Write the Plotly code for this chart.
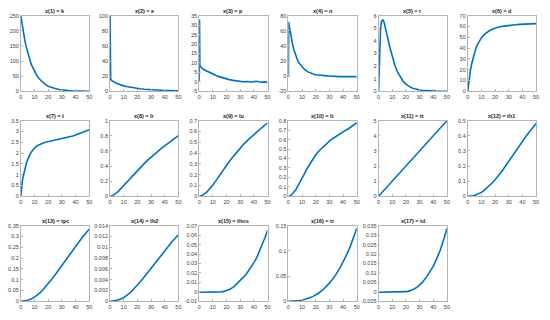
import numpy as np
import plotly.graph_objects as go

t = [0, 0.25, 0.5, 1, 1.5, 2, 3, 4, 5, 6, 7, 8, 10, 12, 14, 16, 18, 20, 22, 25, 28, 30, 32, 35, 38, 40, 42, 45, 48, 50]

titles = ["x(1) = k", "x(2) = e", "x(3) = p", "x(4) = n", "x(5) = r", "x(6) = d",
          "x(7) = t", "x(8) = lr", "x(9) = lu", "x(10) = lt", "x(11) = tt", "x(12) = th1",
          "x(13) = tpc", "x(14) = th2", "x(15) = thos", "x(16) = tr", "x(17) = td"]

x1 = [250, 242, 234, 219, 205, 192, 167, 147, 128, 112, 98, 86, 66, 50, 39, 30, 23, 17, 13, 9, 6, 4.5, 3.5, 2.3, 1.6, 1.2, 0.9, 0.6, 0.4, 0.3]
x2 = [100, 30, 16, 14.5, 13.8, 13.2, 12.2, 11.3, 10.4, 9.6, 8.9, 8.3, 7.2, 6.3, 5.5, 4.8, 4.2, 3.7, 3.3, 2.8, 2.3, 2.0, 1.8, 1.5, 1.3, 1.1, 1.0, 0.85, 0.75, 0.7]
x3 = [0, 33, 9, 8, 7.6, 7.3, 6.8, 6.3, 5.9, 5.5, 5.1, 4.8, 4.1, 3.5, 2.9, 2.4, 2.0, 1.6, 1.2, 0.8, 0.4, 0.2, 0.1, 0.2, -0.1, 0.1, 0.3, -0.2, 0.0, -0.3]
x4 = [0, 72, 68, 63, 57, 52, 43, 35, 29, 24, 20, 17, 12, 8.5, 6, 4.2, 3, 2, 1.4, 0.8, 0.4, 0.2, -0.2, -0.4, -0.5, -0.5, -0.5, -0.6, -0.6, -0.6]
x5 = [0, 1.2, 2.4, 4.0, 5.0, 5.5, 5.7, 5.5, 5.1, 4.6, 4.1, 3.6, 2.75, 2.05, 1.5, 1.1, 0.8, 0.57, 0.41, 0.25, 0.15, 0.11, 0.08, 0.05, 0.03, 0.02, 0.015, 0.01, 0.01, 0.01]
x6 = [0, 3, 6, 11, 15.5, 19.5, 26, 31.5, 36, 40, 43, 45.5, 49.5, 52.5, 54.5, 56.3, 57.5, 58.5, 59.3, 60.2, 60.8, 61.1, 61.4, 61.7, 62, 62.1, 62.3, 62.5, 62.6, 62.7]
x7 = [0, 0.25, 0.4, 0.65, 0.85, 1.0, 1.3, 1.52, 1.7, 1.86, 1.98, 2.08, 2.24, 2.34, 2.41, 2.46, 2.5, 2.53, 2.56, 2.59, 2.63, 2.65, 2.68, 2.73, 2.79, 2.84, 2.89, 2.96, 3.03, 3.08]
x8 = [0, 0, 0.001, 0.003, 0.006, 0.01, 0.021, 0.035, 0.05, 0.066, 0.084, 0.102, 0.14, 0.18, 0.22, 0.26, 0.3, 0.34, 0.378, 0.433, 0.485, 0.518, 0.55, 0.596, 0.64, 0.668, 0.696, 0.737, 0.777, 0.803]
x9 = [0, 0, 0.001, 0.002, 0.004, 0.007, 0.014, 0.023, 0.033, 0.045, 0.058, 0.072, 0.105, 0.141, 0.178, 0.215, 0.252, 0.288, 0.322, 0.37, 0.418, 0.448, 0.475, 0.514, 0.55, 0.573, 0.595, 0.628, 0.66, 0.678]
x10 = [0, 0, 0.001, 0.003, 0.006, 0.011, 0.024, 0.04, 0.06, 0.083, 0.108, 0.135, 0.19, 0.245, 0.3, 0.35, 0.4, 0.44, 0.475, 0.52, 0.56, 0.585, 0.607, 0.637, 0.665, 0.683, 0.7, 0.726, 0.753, 0.78]
x11 = [0, 0.025, 0.05, 0.1, 0.15, 0.2, 0.3, 0.4, 0.5, 0.6, 0.7, 0.8, 1.0, 1.2, 1.4, 1.6, 1.8, 2.0, 2.2, 2.5, 2.8, 3.0, 3.2, 3.5, 3.8, 4.0, 4.2, 4.5, 4.8, 5.0]
x12 = [0, 0, 0, 0.0003, 0.0006, 0.001, 0.002, 0.004, 0.006, 0.009, 0.012, 0.016, 0.026, 0.039, 0.054, 0.071, 0.09, 0.11, 0.131, 0.166, 0.205, 0.232, 0.259, 0.299, 0.338, 0.364, 0.389, 0.425, 0.46, 0.482]
x13 = [0, 0, 0, 0.0003, 0.0006, 0.001, 0.002, 0.003, 0.005, 0.007, 0.009, 0.012, 0.019, 0.028, 0.039, 0.052, 0.066, 0.081, 0.097, 0.122, 0.149, 0.167, 0.185, 0.212, 0.239, 0.256, 0.273, 0.297, 0.32, 0.334]
x14 = [0, 0, 0, 0.00001, 0.00002, 0.00004, 0.00008, 0.00012, 0.00019, 0.00026, 0.00034, 0.00044, 0.0007, 0.00104, 0.00144, 0.00191, 0.00243, 0.00298, 0.00357, 0.00449, 0.00548, 0.00615, 0.00681, 0.0078, 0.0088, 0.00942, 0.01005, 0.01093, 0.01178, 0.0123]
x15 = [-0.0005, -0.0005, -0.0005, -0.0005, -0.0005, -0.0005, -0.0005, -0.0005, -0.0005, -0.0005, -0.0005, -0.0005, -0.0005, -0.0004, -0.0003, 0.0, 0.0005, 0.0013, 0.0025, 0.005, 0.009, 0.012, 0.015, 0.020, 0.026, 0.031, 0.036, 0.046, 0.057, 0.065]
x16 = [0, 0, 0, 0, 0.0001, 0.0001, 0.0002, 0.0003, 0.0005, 0.0007, 0.001, 0.0013, 0.0022, 0.0035, 0.0052, 0.0073, 0.0098, 0.0127, 0.016, 0.022, 0.03, 0.036, 0.043, 0.054, 0.068, 0.078, 0.089, 0.107, 0.129, 0.145]
x17 = [-0.0002, -0.0002, -0.0002, -0.0002, -0.0002, -0.0002, -0.0002, -0.0002, -0.0002, -0.0002, -0.0002, -0.0002, -0.0002, -0.0002, -0.0002, -0.0002, -0.0001, 0.0001, 0.0004, 0.0011, 0.0024, 0.0036, 0.005, 0.0078, 0.0112, 0.0135, 0.0167, 0.0218, 0.0285, 0.0335]

series = [x1, x2, x3, x4, x5, x6, x7, x8, x9, x10, x11, x12, x13, x14, x15, x16, x17]

y_ranges = [(0, 250), (0, 100), (-5, 35), (-20, 80), (0, 6), (0, 70),
            (0, 3.5), (0, 1), (0, 0.7), (0, 0.8), (0, 5), (0, 0.5),
            (0, 0.35), (0, 0.014), (-0.01, 0.07), (0, 0.15), (-0.005, 0.035)]
y_dticks = [50, 20, 5, 20, 1, 10, 0.5, 0.2, 0.1, 0.1, 1, 0.1, 0.05, 0.002, 0.01, 0.05, 0.005]
x_ticks = [0, 10, 20, 30, 40, 50]

W, H = 550, 320
col_left = [19, 109, 199, 289, 380, 470]
col_w = 69
row_top = [13, 120, 227]
row_h = 77

fig = go.Figure()
layout = dict(width=W, height=H, margin=dict(l=0, r=0, t=0, b=0),
              paper_bgcolor="white", plot_bgcolor="white", showlegend=False,
              font=dict(family="Liberation Sans, Arial, sans-serif", size=5.5, color="#404040"))
annotations = []
axis_line = "#b5b5b5"
for i, ys in enumerate(series):
    n = i + 1
    r, c = divmod(i, 6)
    x0 = col_left[c] / W
    x1d = (col_left[c] + col_w) / W
    ytop = 1 - row_top[r] / H
    ybot = 1 - (row_top[r] + row_h) / H
    sfx = "" if n == 1 else str(n)
    fig.add_trace(go.Scatter(x=t, y=ys, mode="lines", xaxis="x" + sfx, yaxis="y" + sfx,
                             line=dict(color="#0072BD", width=1.6), hoverinfo="skip"))
    lo, hi = y_ranges[i]
    d = y_dticks[i]
    nt = int(round((hi - lo) / d))
    tv = [round(lo + k * d, 6) for k in range(nt + 1)]
    tt = ["{:g}".format(v) for v in tv]
    layout["xaxis" + sfx] = dict(domain=[x0, x1d], anchor="y" + sfx, range=[0, 50],
                                 tickvals=x_ticks, ticktext=[str(v) for v in x_ticks],
                                 showgrid=False, zeroline=False, showline=True, mirror=True,
                                 linecolor=axis_line, linewidth=0.8, ticks="inside", ticklen=2,
                                 tickcolor=axis_line, tickfont=dict(size=5.5, color="#404040"))
    layout["yaxis" + sfx] = dict(domain=[ybot, ytop], anchor="x" + sfx, range=[lo, hi],
                                 tickvals=tv, ticktext=tt,
                                 showgrid=False, zeroline=False, showline=True, mirror=True,
                                 linecolor=axis_line, linewidth=0.8, ticks="inside", ticklen=2,
                                 tickcolor=axis_line, tickfont=dict(size=5.5, color="#404040"))
    annotations.append(dict(text="<b>" + titles[i] + "</b>", x=(x0 + x1d) / 2, y=ytop,
                            xref="paper", yref="paper", xanchor="center", yanchor="bottom",
                            yshift=0, showarrow=False, font=dict(size=5.5, color="#202020")))

layout["annotations"] = annotations
fig.update_layout(**layout)
fig.write_html("out.html", config={"displayModeBar": False},
               post_script="document.body.style.margin='0';document.body.style.overflow='hidden';")
